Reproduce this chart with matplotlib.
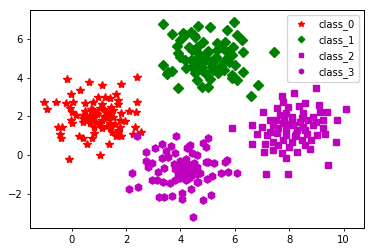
import numpy as np
import matplotlib
matplotlib.use('Agg')
import matplotlib.pyplot as plt

# points, one pair of arrays per class
class_0_x = [-0.16, 0.65, 1.13, 1.82, 2.39, 0.32, -0.01, 1.64, -1.01, -0.57,
             -0.90, -0.21, 0.04, 0.50, 0.79, 0.98, 1.24, 1.41, 1.70, 1.11,
             1.46, 1.70, 2.39, -0.06, 0.00, 0.79, 1.04, 1.29, 1.53, 1.80,
             2.12, 2.36, 0.16, 0.43, 0.67, 0.92, 0.55, 0.79, 1.29, 1.53,
             1.78, 1.96, -0.01, 0.43, 0.67, 0.89, 1.41, 0.00, -0.51, -0.37,
             0.82, 1.13, 1.41, 1.78, 2.33, -0.43, -0.40, 0.28, 0.43, 0.74,
             0.82, 1.63, 1.71, 2.24, 2.55, 0.57, 1.38, 1.04, -0.09, 0.90,
             1.20, 1.10, 0.60, 1.40, 1.60, 1.70, 1.50, 0.70, 1.00, 1.20,
             0.50, 1.30, 1.80, 0.40]
class_0_y = [3.94, 3.80, 3.63, 3.68, 4.04, 3.37, 3.14, 3.16, 2.75, 2.75,
             2.37, 2.69, 2.73, 2.68, 2.75, 2.99, 3.02, 2.94, 2.85, 2.63,
             2.50, 2.63, 2.73, 2.42, 2.25, 2.33, 2.42, 2.25, 2.33, 2.16,
             2.28, 2.25, 2.07, 2.07, 2.07, 2.11, 1.90, 1.90, 1.90, 1.98,
             1.81, 1.76, 1.81, 1.69, 1.64, 1.73, 1.64, 1.64, 1.45, 1.45,
             1.47, 1.38, 1.38, 1.47, 1.43, 1.09, 0.86, 0.98, 0.90, 0.90,
             1.12, 1.00, 1.21, 1.07, 1.18, 0.55, 0.57, 0.00, -0.22, 2.20,
             2.00, 1.80, 1.80, 2.10, 1.60, 1.30, 1.20, 2.40, 1.60, 2.40,
             2.30, 1.50, 1.00, 1.90]

class_1_x = [3.37, 3.70, 4.17, 3.98, 3.86, 3.92, 4.65, 5.08, 5.98, 5.70,
             6.07, 6.25, 4.53, 4.84, 5.33, 5.64, 5.94, 6.31, 7.45, 4.41,
             4.65, 5.02, 5.33, 5.70, 4.17, 4.53, 4.90, 5.27, 5.64, 3.37,
             4.41, 4.78, 5.15, 5.51, 6.00, 3.55, 3.49, 4.53, 4.90, 5.39,
             5.88, 6.31, 4.60, 5.08, 5.88, 6.07, 3.90, 4.80, 5.02, 6.84,
             6.59, 3.68, 4.70, 4.90, 5.10, 4.60, 5.00, 5.30, 4.80, 4.40,
             5.20, 4.30, 4.60, 5.50, 5.60, 4.20, 5.80, 5.90, 4.00, 4.10,
             4.40, 4.50]
class_1_y = [6.77, 6.27, 6.22, 5.96, 5.65, 5.27, 6.68, 6.62, 6.88, 6.48,
             6.22, 5.96, 6.13, 5.87, 5.79, 5.87, 5.61, 5.35, 5.32, 5.44,
             5.27, 5.35, 5.44, 5.35, 4.92, 4.92, 4.92, 4.92, 4.92, 4.66,
             4.58, 4.58, 4.58, 4.61, 4.66, 4.32, 4.20, 4.23, 4.23, 4.23,
             4.15, 4.32, 3.89, 3.92, 3.97, 3.89, 3.46, 3.51, 3.54, 3.63,
             3.06, 4.37, 5.00, 5.10, 4.80, 4.70, 5.40, 5.10, 4.40, 4.90,
             4.40, 5.60, 5.60, 5.60, 4.40, 4.50, 4.80, 5.20, 5.10, 6.30,
             6.40, 6.20]

class_2_x = [8.98, 8.17, 7.74, 7.76, 10.08, 7.04, 7.54, 7.96, 8.36, 9.13,
             9.40, 5.88, 6.62, 7.29, 7.66, 8.09, 8.46, 8.88, 9.25, 9.77,
             6.99, 7.41, 7.78, 8.15, 8.51, 8.88, 9.23, 6.80, 7.17, 7.54,
             7.90, 8.27, 8.64, 9.01, 9.31, 6.64, 7.11, 7.41, 7.78, 8.09,
             8.49, 9.72, 7.08, 7.41, 7.72, 7.90, 8.29, 8.76, 9.43, 7.14,
             7.96, 7.90, 8.10, 8.30, 7.60, 8.00, 8.40, 7.80, 8.60, 8.20,
             7.50, 8.70, 7.90, 8.50, 7.30, 9.00, 8.80, 7.60, 8.00, 8.60,
             9.10, 8.60]
class_2_y = [3.49, 3.20, 3.07, 2.76, 2.37, 2.21, 2.42, 2.50, 2.56, 2.21,
             2.21, 1.38, 1.55, 1.81, 2.07, 1.98, 1.90, 1.98, 1.81, 1.81,
             1.47, 1.55, 1.64, 1.55, 1.47, 1.55, 1.38, 1.07, 1.04, 1.12,
             1.04, 1.07, 1.07, 1.04, 1.07, 0.55, 0.55, 0.69, 0.78, 0.69,
             0.78, 0.66, 0.14, 0.26, 0.09, -0.17, 0.14, 0.31, -0.52, -0.98,
             -0.98, 1.30, 1.80, 1.30, 1.40, 1.60, 1.70, 1.90, 1.30, 1.00,
             1.80, 1.80, 2.20, 2.20, 1.20, 1.70, 0.80, 0.50, 0.40, 0.50,
             2.60, 2.70]

class_3_x = [2.39, 3.82, 5.02, 4.84, 4.93, 3.33, 3.65, 3.06, 2.72, 3.46,
             3.80, 4.29, 4.43, 4.60, 2.72, 2.96, 3.31, 3.55, 2.82, 3.18,
             3.40, 4.93, 5.24, 5.70, 5.76, 5.51, 5.15, 2.23, 2.94, 3.13,
             3.37, 3.61, 4.60, 4.96, 2.11, 2.43, 4.39, 4.04, 3.21, 3.40,
             3.68, 4.07, 4.84, 5.11, 4.47, 4.00, 4.20, 4.10, 3.90, 4.30,
             4.40, 4.00, 3.80, 4.20, 4.50, 4.10, 3.90, 4.30, 4.00, 4.40,
             3.80, 4.20, 4.60, 4.10, 4.30, 3.75, 4.50, 4.23, 4.35, 5.02,
             5.64, 6.09, 4.66, 4.60, 4.72]
class_3_y = [0.98, 0.98, 0.86, 0.61, 0.40, 0.57, 0.47, 0.35, 0.14, 0.22,
             0.09, 0.43, 0.09, 0.00, -0.29, -0.43, -0.17, -0.12, -0.64, -0.86,
             -0.69, -0.35, -0.40, -0.26, -0.86, -0.95, -1.09, -0.95, -1.30, -1.30,
             -1.38, -1.47, -1.38, -1.26, -1.78, -1.67, -1.78, -1.95, -2.19, -2.19,
             -2.12, -2.30, -2.33, -2.07, -3.20, -0.60, -0.80, -1.00, -0.90, -0.50,
             -1.10, -1.20, -0.70, -1.30, -0.80, -0.40, -1.10, -0.90, -0.30, -0.60,
             -1.30, -0.20, -1.00, -0.70, -1.20, -0.45, -0.40, 0.35, 0.52, -0.35,
             -0.35, -0.95, -1.38, -0.60, -0.95]

labels = ['class_0', 'class_1', 'class_2', 'class_3']
markers = ['r*', 'gD', 'ms', 'mh']
sizes = [6.0, 5.0, 5.0, 5.2]

plt.rcParams['font.size'] = 7.2

fig = plt.figure(figsize=(3.74, 2.52), dpi=100)
ax = fig.add_axes([0.079, 0.095, 0.894, 0.865])

xs = [class_0_x, class_1_x, class_2_x, class_3_x]
ys = [class_0_y, class_1_y, class_2_y, class_3_y]
for x, y, m, ms, lab in zip(xs, ys, markers, sizes, labels):
    ax.plot(np.array(x), np.array(y), m, markersize=ms, label=lab)

ax.set_xlim(-1.55, 10.75)
ax.set_ylim(-3.78, 7.51)
ax.set_xticks([0, 2, 4, 6, 8, 10])
ax.set_yticks([-2, 0, 2, 4, 6])
ax.tick_params(length=2.5, width=0.6, pad=2.5)
for s in ax.spines.values():
    s.set_linewidth(0.7)

ax.legend(loc='upper right', numpoints=1, markerscale=0.65)

fig.savefig('out.png', dpi=100)
